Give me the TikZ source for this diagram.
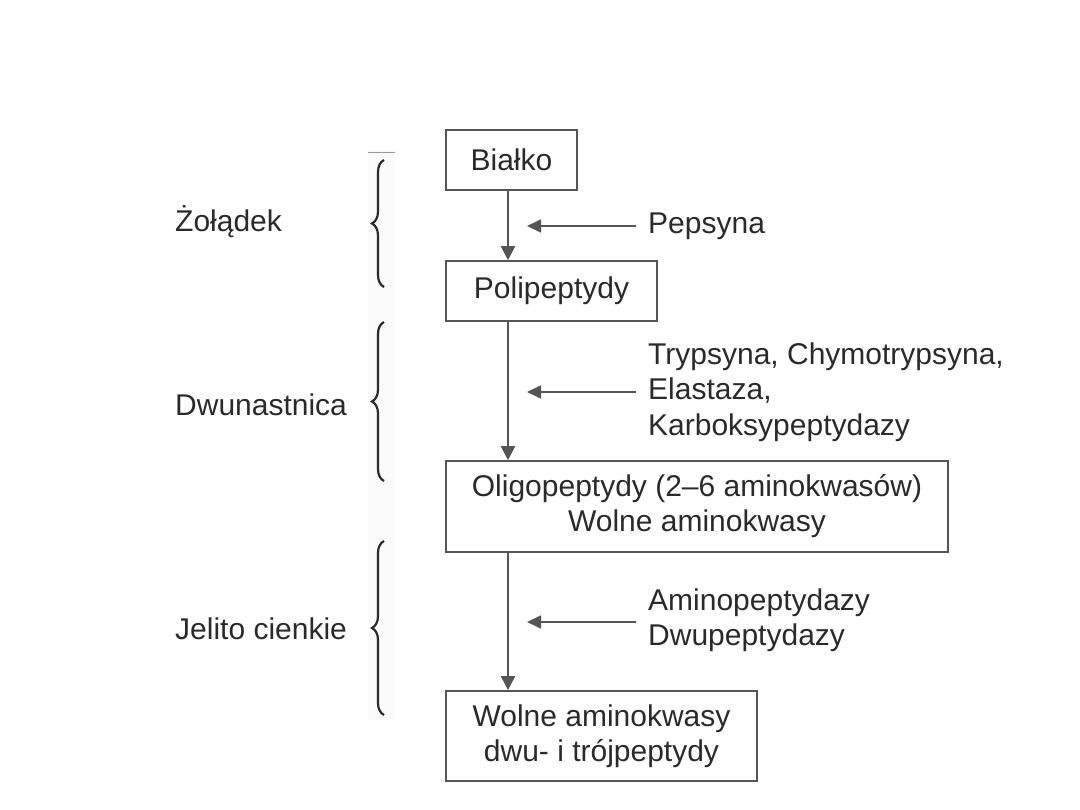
\documentclass[tikz,border=0pt]{standalone}
\usepackage{fontspec}
\setmainfont{Liberation Sans}
\usetikzlibrary{arrows.meta,decorations.pathreplacing}
\definecolor{ink}{HTML}{2A2A2A}
\definecolor{ln}{HTML}{555555}
\begin{document}
\begin{tikzpicture}[x=1pt,y=-1pt,
  box/.style={draw=ln,line width=1.6pt,inner sep=0pt,text=ink,font=\fontsize{30}{35}\selectfont,align=center},
  lbl/.style={text=ink,font=\fontsize{30}{35.5}\selectfont,align=left,anchor=west,inner sep=0pt},
  flow/.style={draw=ln,line width=1.6pt,-{Triangle[length=14pt,width=14pt]}},
  enz/.style={draw=ln,line width=1.6pt,-{Triangle[length=14pt,width=13pt]}},
  brc/.style={draw=ink,line width=2.2pt,decorate,decoration={brace,amplitude=12pt}}]
\useasboundingbox (0,0) rectangle (1080,810);
\fill[black!2] (368,150) rectangle (395,720);
\draw[black!40,line width=1pt] (368,153) -- (395,153);
% boxes
\node[box,minimum width=131pt,minimum height=60pt] (b1) at (511.5,160) {Białko};
\node[box,minimum width=211pt,minimum height=60pt] (b2) at (551.5,291) {Polipeptydy};
\node[box,minimum width=502pt,minimum height=91pt] (b3) at (697,506.5) {Oligopeptydy (2–6 aminokwasów)\\Wolne aminokwasy};
\node[box,minimum width=311pt,minimum height=90pt] (b4) at (601.5,736) {Wolne aminokwasy\\dwu- i trójpeptydy};
% flow
\draw[flow] (b1.south -| 508,0) -- (b2.north -| 508,0);
\draw[flow] (b2.south -| 508,0) -- (b3.north -| 508,0);
\draw[flow] (b3.south -| 508,0) -- (b4.north -| 508,0);
% enzymes
\node[lbl] (e1) at (648,226) {Pepsyna};
\node[lbl] (e2) at (648,392) {Trypsyna, Chymotrypsyna,\\Elastaza,\\Karboksypeptydazy};
\node[lbl] (e3) at (648,620) {Aminopeptydazy\\Dwupeptydazy};
\coordinate (t1) at (527,226);
\coordinate (t2) at (527,392);
\coordinate (t3) at (527,622);
\draw[enz] (e1.west |- t1) ++(-12,0) -- (t1);
\draw[enz] (e2.west |- t2) ++(-12,0) -- (t2);
\draw[enz] (e3.west |- t3) ++(-12,0) -- (t3);
% regions
\node[lbl] (r1) at (175,222) {Żołądek};
\node[lbl] (r2) at (175,405) {Dwunastnica};
\node[lbl] (r3) at (175,629) {Jelito cienkie};
\draw[brc] (384,287) -- (384,160);
\draw[brc] (384,481) -- (384,322);
\draw[brc] (384,715) -- (384,541);
\end{tikzpicture}
\end{document}
